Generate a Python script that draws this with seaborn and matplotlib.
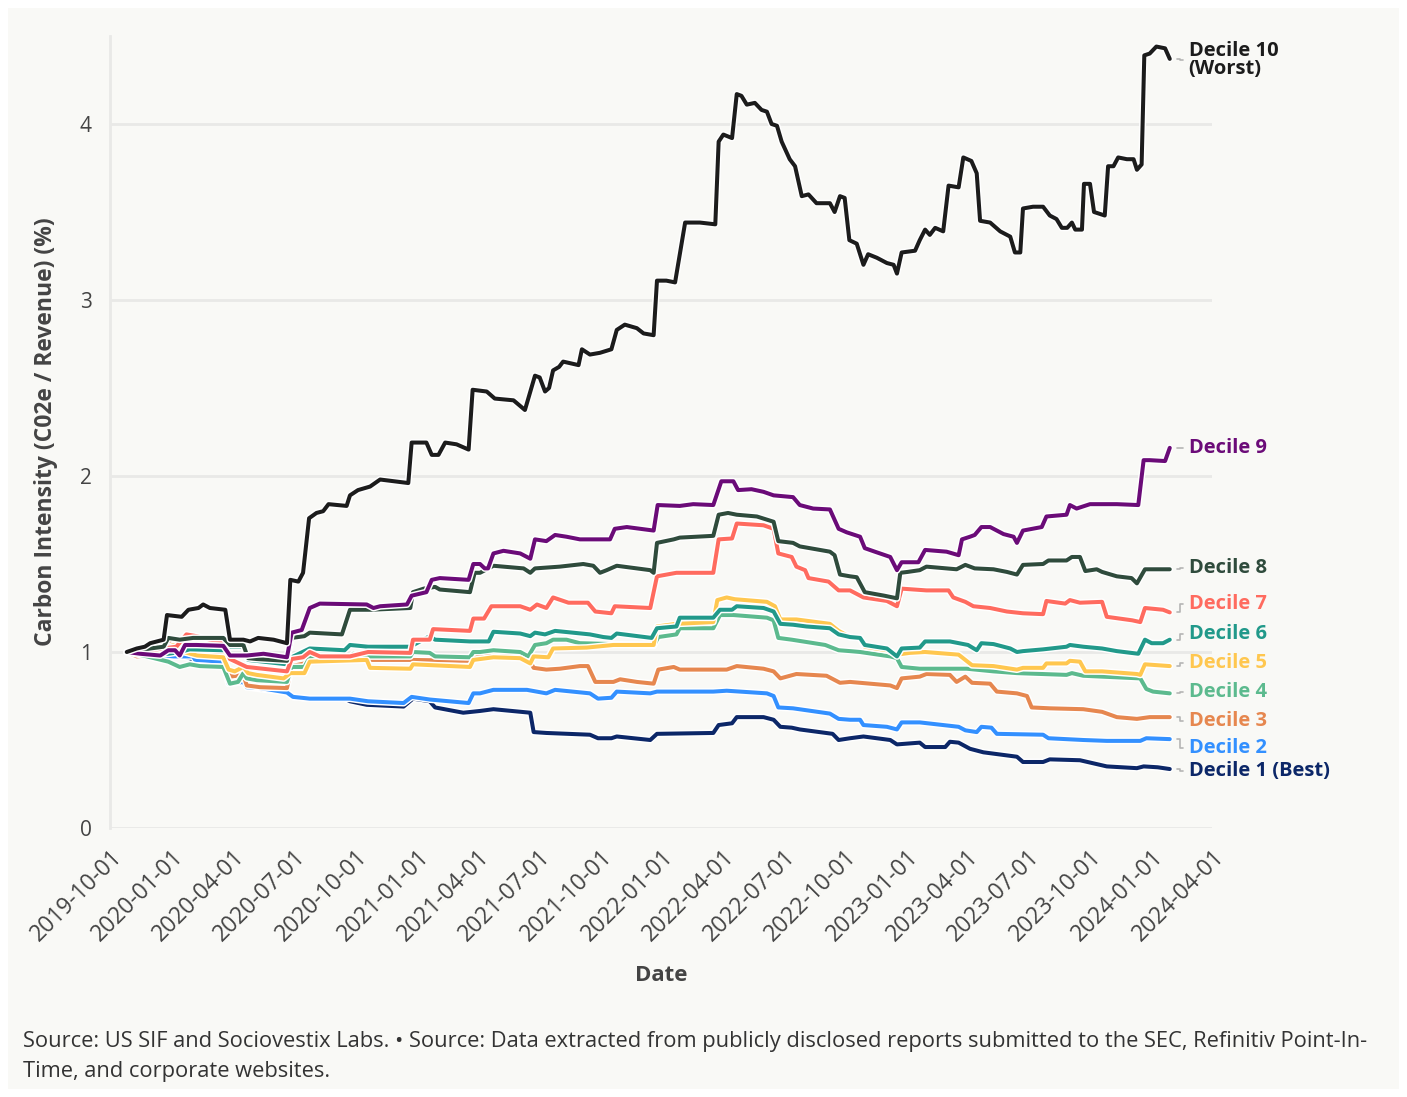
import matplotlib
matplotlib.use("Agg")
import matplotlib.pyplot as plt
import matplotlib.dates as mdates
import matplotlib.patheffects as pe
from matplotlib.patches import Rectangle
import pandas as pd
import seaborn as sns

# ---- data: days since START and carbon intensity per decile portfolio ----
START = pd.Timestamp("2019-10-01")
END = pd.Timestamp("2024-04-01")

d1_day = [25, 60, 95, 110, 127, 169, 177, 199, 204, 264, 273, 298, 350, 358, 383, 438, 452, 477, 485, 527,
          552, 572, 627, 632, 651, 716, 728, 748, 756, 806, 816, 900, 908, 928, 935, 975, 990, 1000, 1017,
          1029, 1078, 1087, 1104, 1124, 1164, 1174, 1208, 1216, 1246, 1253, 1266, 1283, 1303, 1353, 1362,
          1392, 1402, 1447, 1487, 1532, 1542, 1563, 1581]
d1_val = [1.00, 0.985, 0.975, 0.975, 0.955, 0.945, 0.82, 0.83, 0.80, 0.77, 0.745, 0.735, 0.735, 0.72, 0.70,
          0.69, 0.735, 0.72, 0.685, 0.655, 0.665, 0.675, 0.655, 0.545, 0.54, 0.53, 0.51, 0.51, 0.52, 0.50,
          0.535, 0.54, 0.585, 0.595, 0.63, 0.63, 0.615, 0.575, 0.57, 0.56, 0.535, 0.50, 0.51, 0.52, 0.50,
          0.475, 0.485, 0.46, 0.46, 0.49, 0.485, 0.45, 0.43, 0.405, 0.375, 0.375, 0.39, 0.385, 0.35, 0.34,
          0.35, 0.345, 0.335]

d2_day = [25, 60, 95, 124, 127, 169, 177, 199, 204, 224, 264, 273, 298, 358, 385, 438, 450, 477, 535, 542,
          552, 572, 622, 651, 664, 716, 728, 748, 756, 806, 816, 900, 920, 980, 990, 997, 1019, 1074, 1087,
          1104, 1119, 1124, 1159, 1174, 1181, 1208, 1266, 1276, 1293, 1300, 1315, 1323, 1392, 1400, 1452,
          1487, 1537, 1546, 1581]
d2_val = [1.00, 0.985, 0.975, 0.975, 0.955, 0.945, 0.82, 0.83, 0.80, 0.795, 0.77, 0.745, 0.735, 0.735, 0.72,
          0.71, 0.745, 0.73, 0.71, 0.765, 0.765, 0.785, 0.785, 0.765, 0.785, 0.765, 0.735, 0.74, 0.775,
          0.765, 0.775, 0.775, 0.78, 0.765, 0.75, 0.685, 0.68, 0.65, 0.62, 0.615, 0.615, 0.585, 0.575, 0.56,
          0.60, 0.60, 0.575, 0.555, 0.545, 0.575, 0.57, 0.535, 0.53, 0.51, 0.50, 0.495, 0.495, 0.51, 0.505]

d3_day = [25, 40, 60, 87, 92, 110, 120, 169, 179, 199, 204, 224, 264, 271, 290, 298, 448, 537, 552, 612,
          627, 632, 651, 671, 701, 713, 724, 751, 761, 786, 811, 818, 841, 850, 900, 920, 935, 975, 990,
          1000, 1024, 1069, 1089, 1104, 1164, 1174, 1181, 1208, 1218, 1253, 1263, 1276, 1286, 1313, 1323,
          1353, 1368, 1375, 1402, 1452, 1480, 1502, 1532, 1551, 1581]
d3_val = [1.00, 0.975, 0.98, 1.04, 1.06, 1.05, 0.99, 0.98, 0.86, 0.87, 0.81, 0.80, 0.795, 0.92, 0.935,
          0.955, 0.955, 0.95, 0.98, 0.975, 0.945, 0.91, 0.90, 0.905, 0.92, 0.92, 0.83, 0.83, 0.845, 0.83,
          0.82, 0.90, 0.915, 0.90, 0.90, 0.90, 0.92, 0.905, 0.89, 0.85, 0.875, 0.865, 0.825, 0.83, 0.81,
          0.795, 0.85, 0.86, 0.875, 0.87, 0.83, 0.86, 0.825, 0.82, 0.775, 0.765, 0.75, 0.685, 0.68, 0.675,
          0.66, 0.63, 0.62, 0.63, 0.63]

d4_day = [25, 55, 87, 104, 119, 134, 169, 179, 191, 199, 204, 219, 264, 271, 290, 298, 358, 363, 385, 448,
          452, 477, 485, 537, 542, 552, 572, 612, 624, 634, 651, 661, 681, 701, 751, 811, 818, 845, 850,
          900, 910, 930, 980, 990, 997, 1017, 1067, 1087, 1104, 1119, 1164, 1174, 1181, 1208, 1278, 1318,
          1353, 1427, 1435, 1452, 1537, 1546, 1556, 1581]
d4_val = [1.00, 0.975, 0.945, 0.915, 0.93, 0.92, 0.915, 0.82, 0.83, 0.88, 0.85, 0.84, 0.83, 0.915, 0.915,
          0.97, 0.965, 0.99, 0.975, 0.975, 1.00, 0.995, 0.975, 0.97, 1.00, 1.00, 1.01, 1.00, 0.975, 1.04,
          1.05, 1.07, 1.07, 1.05, 1.045, 1.035, 1.085, 1.10, 1.135, 1.135, 1.21, 1.21, 1.195, 1.18, 1.08,
          1.07, 1.04, 1.01, 1.005, 1.00, 0.975, 0.965, 0.915, 0.905, 0.905, 0.89, 0.88, 0.87, 0.88, 0.865,
          0.85, 0.79, 0.775, 0.765]

d5_day = [25, 60, 95, 110, 130, 169, 177, 186, 199, 206, 219, 259, 269, 290, 298, 383, 388, 448, 452, 537,
          542, 552, 572, 612, 627, 632, 654, 661, 711, 751, 811, 816, 845, 900, 906, 920, 932, 980, 992,
          1000, 1024, 1074, 1087, 1104, 1119, 1126, 1159, 1174, 1193, 1216, 1266, 1276, 1286, 1318, 1353,
          1362, 1392, 1397, 1427, 1432, 1447, 1455, 1480, 1532, 1537, 1544, 1581]
d5_val = [1.00, 0.99, 1.04, 1.00, 0.98, 0.97, 0.90, 0.89, 0.915, 0.88, 0.87, 0.85, 0.88, 0.88, 0.945,
          0.955, 0.91, 0.905, 0.93, 0.915, 0.955, 0.96, 0.97, 0.965, 0.935, 0.975, 0.97, 1.02, 1.025, 1.04,
          1.04, 1.145, 1.16, 1.17, 1.295, 1.31, 1.30, 1.285, 1.26, 1.185, 1.185, 1.16, 1.12, 1.085, 1.08,
          1.03, 1.01, 0.985, 0.995, 1.00, 0.985, 0.955, 0.925, 0.92, 0.90, 0.91, 0.91, 0.935, 0.935, 0.95,
          0.945, 0.89, 0.89, 0.875, 0.87, 0.93, 0.92]

d6_day = [25, 60, 87, 104, 119, 169, 179, 199, 206, 264, 271, 298, 350, 358, 385, 448, 477, 485, 537, 565,
          572, 612, 627, 634, 649, 664, 716, 736, 748, 756, 808, 816, 845, 850, 900, 910, 928, 935, 975,
          990, 1000, 1019, 1039, 1074, 1087, 1104, 1119, 1126, 1159, 1174, 1181, 1208, 1216, 1253, 1280,
          1293, 1300, 1318, 1343, 1353, 1362, 1392, 1427, 1432, 1452, 1480, 1502, 1534, 1544, 1554, 1571,
          1581]
d6_val = [1.00, 0.99, 0.99, 1.00, 1.015, 1.01, 1.03, 1.03, 0.955, 0.93, 0.97, 1.02, 1.01, 1.04, 1.03, 1.03,
          1.09, 1.07, 1.06, 1.06, 1.115, 1.105, 1.09, 1.11, 1.10, 1.12, 1.10, 1.085, 1.08, 1.105, 1.08,
          1.135, 1.145, 1.195, 1.195, 1.24, 1.24, 1.26, 1.25, 1.23, 1.16, 1.155, 1.145, 1.135, 1.10, 1.085,
          1.08, 1.04, 1.02, 0.975, 1.02, 1.025, 1.06, 1.06, 1.04, 1.01, 1.05, 1.045, 1.02, 1.00, 1.005,
          1.015, 1.03, 1.04, 1.03, 1.02, 1.005, 0.99, 1.07, 1.05, 1.05, 1.07]

d7_day = [25, 60, 99, 114, 129, 149, 169, 179, 204, 264, 271, 288, 298, 313, 358, 385, 448, 452, 477, 482,
          537, 542, 558, 569, 612, 627, 637, 651, 661, 684, 713, 724, 748, 753, 806, 816, 845, 900, 908,
          928, 935, 975, 990, 997, 1017, 1024, 1037, 1042, 1072, 1087, 1104, 1124, 1159, 1174, 1181, 1218,
          1251, 1258, 1276, 1288, 1313, 1338, 1362, 1392, 1397, 1425, 1432, 1447, 1480, 1487, 1525, 1537,
          1544, 1571, 1581]
d7_val = [1.00, 1.01, 1.03, 1.10, 1.09, 1.07, 1.06, 0.96, 0.915, 0.89, 0.96, 0.97, 1.00, 0.975, 0.975, 1.00,
          0.995, 1.07, 1.07, 1.13, 1.12, 1.19, 1.19, 1.26, 1.26, 1.24, 1.27, 1.25, 1.31, 1.28, 1.28, 1.23,
          1.22, 1.26, 1.25, 1.43, 1.45, 1.45, 1.64, 1.645, 1.73, 1.72, 1.70, 1.56, 1.54, 1.485, 1.465, 1.42,
          1.40, 1.35, 1.35, 1.31, 1.29, 1.26, 1.36, 1.35, 1.35, 1.31, 1.285, 1.26, 1.25, 1.23, 1.22, 1.215,
          1.29, 1.275, 1.295, 1.28, 1.285, 1.20, 1.18, 1.17, 1.25, 1.24, 1.225]

d8_day = [25, 60, 80, 87, 104, 124, 169, 179, 199, 206, 219, 264, 271, 290, 298, 346, 358, 388, 448, 452,
          468, 485, 492, 537, 544, 552, 572, 617, 627, 634, 671, 706, 721, 731, 741, 756, 806, 811, 816,
          841, 850, 900, 908, 922, 935, 965, 990, 997, 1019, 1029, 1074, 1081, 1089, 1104, 1114, 1126, 1155,
          1174, 1179, 1190, 1208, 1218, 1263, 1276, 1290, 1318, 1338, 1353, 1362, 1392, 1400, 1427, 1435,
          1447, 1455, 1472, 1480, 1502, 1524, 1532, 1544, 1581]
d8_val = [1.00, 1.02, 1.03, 1.08, 1.07, 1.08, 1.08, 1.04, 1.04, 0.965, 0.96, 0.95, 1.08, 1.09, 1.11, 1.10,
          1.24, 1.24, 1.25, 1.34, 1.36, 1.37, 1.355, 1.34, 1.45, 1.45, 1.49, 1.475, 1.45, 1.475, 1.485, 1.50,
          1.49, 1.45, 1.465, 1.49, 1.465, 1.45, 1.62, 1.64, 1.65, 1.66, 1.78, 1.79, 1.78, 1.77, 1.74, 1.63,
          1.62, 1.60, 1.57, 1.55, 1.44, 1.43, 1.425, 1.34, 1.32, 1.305, 1.45, 1.455, 1.465, 1.485, 1.47,
          1.495, 1.475, 1.47, 1.455, 1.44, 1.495, 1.50, 1.52, 1.52, 1.54, 1.54, 1.46, 1.47, 1.455, 1.43,
          1.42, 1.39, 1.47, 1.47]

d9_day = [25, 45, 75, 87, 97, 104, 112, 129, 169, 179, 204, 229, 264, 271, 286, 298, 313, 383, 393, 403,
          443, 450, 472, 480, 492, 535, 542, 552, 559, 564, 572, 587, 612, 627, 634, 651, 664, 681, 701,
          746, 753, 771, 811, 817, 850, 870, 900, 912, 930, 937, 957, 975, 990, 1019, 1029, 1049, 1074,
          1087, 1099, 1119, 1126, 1141, 1164, 1174, 1181, 1206, 1216, 1248, 1266, 1271, 1283, 1290, 1300,
          1313, 1333, 1348, 1353, 1362, 1390, 1397, 1427, 1432, 1442, 1462, 1502, 1534, 1542, 1551, 1574,
          1581]
d9_val = [1.00, 0.99, 0.98, 1.01, 1.01, 0.98, 1.04, 1.04, 1.035, 0.98, 0.98, 0.99, 0.97, 1.11, 1.125, 1.25,
          1.275, 1.27, 1.25, 1.26, 1.27, 1.32, 1.34, 1.41, 1.42, 1.41, 1.50, 1.50, 1.475, 1.475, 1.56, 1.575,
          1.56, 1.53, 1.64, 1.63, 1.665, 1.655, 1.64, 1.64, 1.70, 1.71, 1.69, 1.835, 1.83, 1.84, 1.835, 1.97,
          1.97, 1.92, 1.925, 1.91, 1.89, 1.88, 1.835, 1.815, 1.81, 1.70, 1.68, 1.655, 1.59, 1.57, 1.54,
          1.465, 1.51, 1.51, 1.58, 1.57, 1.55, 1.64, 1.655, 1.665, 1.71, 1.71, 1.67, 1.655, 1.62, 1.69,
          1.71, 1.77, 1.78, 1.835, 1.815, 1.84, 1.84, 1.835, 2.09, 2.09, 2.085, 2.16]

d10_day = [25, 40, 52, 60, 80, 85, 107, 117, 132, 139, 149, 172, 179, 199, 209, 221, 244, 264, 269, 281,
           288, 297, 308, 318, 326, 353, 358, 370, 388, 403, 445, 450, 472, 480, 490, 500, 517, 535, 541,
           562, 574, 602, 619, 634, 641, 649, 655, 661, 670, 676, 699, 704, 716, 731, 748, 756, 768, 786,
           796, 811, 816, 830, 843, 858, 880, 903, 908, 915, 928, 935, 942, 950, 962, 972, 980, 987, 995,
           1002, 1014, 1022, 1032, 1042, 1054, 1074, 1081, 1089, 1096, 1103, 1114, 1124, 1131, 1144, 1159,
           1169, 1174, 1181, 1201, 1208, 1216, 1223, 1231, 1243, 1251, 1266, 1273, 1285, 1293, 1298, 1313,
           1328, 1343, 1350, 1358, 1362, 1377, 1392, 1402, 1412, 1420, 1428, 1435, 1440, 1450, 1453, 1462,
           1468, 1484, 1489, 1497, 1504, 1517, 1527, 1532, 1539, 1543, 1551, 1561, 1574, 1581]
d10_val = [1.00, 1.02, 1.03, 1.05, 1.07, 1.21, 1.20, 1.24, 1.25, 1.27, 1.25, 1.24, 1.07, 1.07, 1.06, 1.08,
           1.07, 1.05, 1.41, 1.40, 1.45, 1.76, 1.79, 1.80, 1.84, 1.83, 1.89, 1.92, 1.94, 1.98, 1.96, 2.19,
           2.19, 2.12, 2.12, 2.19, 2.18, 2.15, 2.49, 2.48, 2.44, 2.43, 2.375, 2.57, 2.56, 2.48, 2.50, 2.60,
           2.62, 2.65, 2.63, 2.72, 2.69, 2.70, 2.72, 2.83, 2.86, 2.84, 2.81, 2.80, 3.11, 3.11, 3.10, 3.44,
           3.44, 3.43, 3.90, 3.94, 3.92, 4.17, 4.16, 4.11, 4.12, 4.08, 4.07, 4.00, 3.99, 3.90, 3.80, 3.76,
           3.59, 3.60, 3.55, 3.55, 3.50, 3.59, 3.58, 3.34, 3.32, 3.20, 3.26, 3.24, 3.21, 3.20, 3.15, 3.27,
           3.28, 3.34, 3.40, 3.37, 3.41, 3.39, 3.65, 3.64, 3.81, 3.79, 3.72, 3.45, 3.44, 3.39, 3.36, 3.27,
           3.27, 3.52, 3.53, 3.53, 3.48, 3.46, 3.41, 3.41, 3.44, 3.40, 3.40, 3.66, 3.66, 3.50, 3.48, 3.76,
           3.76, 3.81, 3.80, 3.80, 3.74, 3.77, 4.39, 4.40, 4.44, 4.43, 4.37]

series_names = ["Decile 1", "Decile 2", "Decile 3", "Decile 4", "Decile 5",
                "Decile 6", "Decile 7", "Decile 8", "Decile 9", "Decile 10"]
series_labels = ["Decile 1 (Best)", "Decile 2", "Decile 3", "Decile 4", "Decile 5",
                 "Decile 6", "Decile 7", "Decile 8", "Decile 9", "Decile 10\n(Worst)"]
series_days = [d1_day, d2_day, d3_day, d4_day, d5_day, d6_day, d7_day, d8_day, d9_day, d10_day]
series_vals = [d1_val, d2_val, d3_val, d4_val, d5_val, d6_val, d7_val, d8_val, d9_val, d10_val]
colors = ["#0c2768", "#3390ff", "#e6874f", "#5cba8e", "#ffc74f",
          "#21998a", "#ff6b5f", "#2f4b3c", "#6b0b78", "#1c1c1c"]
# vertical slots for the right-hand labels (spread apart so they don't collide)
label_y = [0.322, 0.452, 0.608, 0.773, 0.9375, 1.102, 1.273, 1.477, 2.159, 4.364]

frames = []
for name, days, vals in zip(series_names, series_days, series_vals):
    frames.append(pd.DataFrame({
        "date": START + pd.to_timedelta(days, unit="D"),
        "value": vals,
        "series": name,
    }))
df = pd.concat(frames, ignore_index=True)

# ---- figure ----
BG = "#f9f9f6"
GRID = "#e9e9e7"
TXT = "#444444"

sns.set_theme(style="white")
plt.rcParams["font.family"] = ["Open Sans", "DejaVu Sans"]

W, H = 1407, 1097
fig = plt.figure(figsize=(W / 100, H / 100), dpi=100, facecolor="white")
fig.patches.append(Rectangle((8 / W, 8 / H), 1 - 16 / W, 1 - 16 / H, transform=fig.transFigure,
                             facecolor=BG, edgecolor="none", zorder=-10))
ax = fig.add_axes([110 / W, 1 - 828 / H, (1212 - 110) / W, (828 - 36) / H])
ax.set_facecolor(BG)

sns.lineplot(data=df, x="date", y="value", hue="series", hue_order=series_names,
             palette=colors, linewidth=2.9, legend=False, estimator=None, sort=True, ax=ax)
for ln in ax.lines:
    ln.set_solid_joinstyle("round")
    ln.set_solid_capstyle("round")
    ln.set_path_effects([pe.Stroke(linewidth=5.0, foreground="white"), pe.Normal()])

ax.set_xlim(START, END)
ax.set_ylim(0, 4.5)
ax.set_yticks([0, 1, 2, 3, 4])
ax.xaxis.set_major_locator(mdates.MonthLocator(bymonth=[1, 4, 7, 10], bymonthday=1))
ax.xaxis.set_major_formatter(mdates.DateFormatter("%Y-%m-%d"))
ax.grid(axis="y", color=GRID, linewidth=2)
ax.grid(axis="x", visible=False)
ax.set_axisbelow(True)
for s in ["top", "right", "bottom"]:
    ax.spines[s].set_visible(False)
ax.spines["left"].set_color(GRID)
ax.spines["left"].set_linewidth(2)
ax.tick_params(axis="x", length=8, width=2, color=GRID, labelsize=16.5, labelcolor=TXT, pad=4)
ax.tick_params(axis="y", length=4, width=2, color=GRID, labelsize=15, labelcolor=TXT, pad=9)
plt.setp(ax.get_xticklabels(), rotation=45, ha="right", rotation_mode="anchor")

ax.set_xlabel("Date", fontsize=16, fontweight="bold", color=TXT, labelpad=14)
ax.set_ylabel("Carbon Intensity (C02e / Revenue) (%)", fontsize=16.5, fontweight="bold",
              color=TXT, labelpad=16)

# ---- end-of-line labels with small leader elbows ----
lead_x1 = START + pd.Timedelta(days=1592)
lead_xm = START + pd.Timedelta(days=1596)
lead_x2 = START + pd.Timedelta(days=1601)
text_x = START + pd.Timedelta(days=1609)
for vals, lab, ly, col in zip(series_vals, series_labels, label_y, colors):
    yend = vals[-1]
    ax.plot([lead_x1, lead_xm, lead_xm, lead_x2], [yend, yend, ly, ly], color="#b5b5b5",
            linewidth=1.2, clip_on=False, zorder=1)
    ax.text(text_x, ly, lab, color=col, fontsize=14.5, fontweight="bold", va="center", ha="left",
            linespacing=0.85, clip_on=False)

footer_kw = dict(fontsize=15.75, color="#333333", va="center", ha="left")
fig.text(23 / W, 1 - 1041 / H,
         "Source: US SIF and Sociovestix Labs. \u2022 Source: Data extracted from publicly disclosed "
         "reports submitted to the SEC, Refinitiv Point-In-", **footer_kw)
fig.text(23 / W, 1 - 1071 / H, "Time, and corporate websites.", **footer_kw)

fig.savefig("out.png", dpi=100, facecolor=fig.get_facecolor())
